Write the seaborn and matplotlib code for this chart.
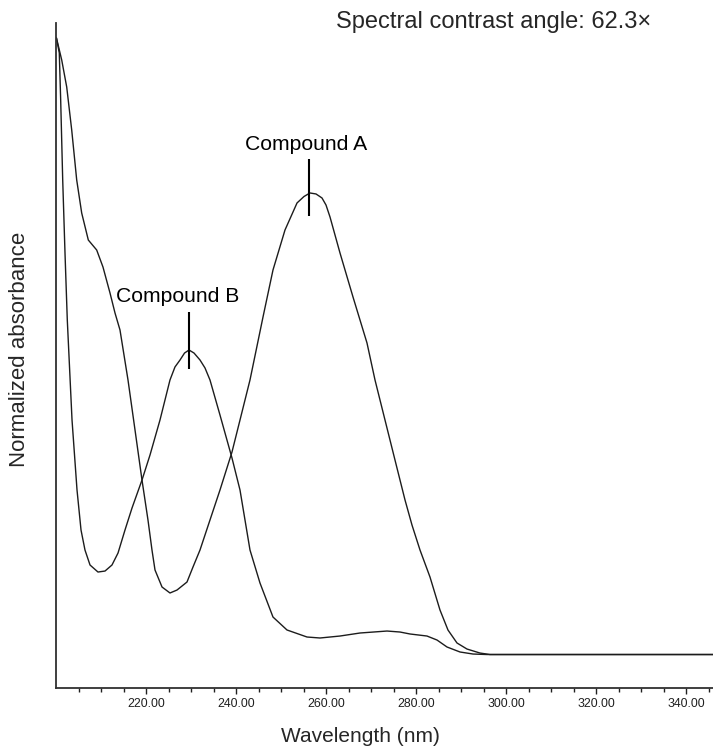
import matplotlib
matplotlib.use("Agg")
import matplotlib.pyplot as plt
import matplotlib.ticker as mticker
import numpy as np
import pandas as pd
import seaborn as sns

# UV spectra (wavelength in nm, normalized absorbance)
wl_a = [200.1, 201.27, 202.38, 203.49, 204.6, 205.71, 207.18, 209.04, 210.44, 212.0,
        213.11, 214.22, 216.0, 217.56, 219.11, 220.44, 221.33, 222.0, 223.56, 225.33,
        226.89, 229.11, 230.44, 232.0, 234.22, 236.44, 239.11, 240.89, 243.11, 246.0,
        248.22, 250.89, 253.56, 255.11, 256.44, 257.78, 259.11, 260.0, 260.89, 263.11,
        266.0, 269.11, 270.89, 273.11, 275.33, 277.56, 279.11, 280.89, 283.11, 285.33,
        287.11, 289.11, 291.33, 294.22, 296.44, 346.0]
abs_a = [1.0, 0.9643, 0.9205, 0.8508, 0.7697, 0.7161, 0.6723, 0.6561, 0.6285, 0.5864,
         0.5540, 0.5264, 0.4453, 0.3641, 0.2830, 0.2182, 0.1695, 0.1371, 0.1095, 0.0998,
         0.1046, 0.1176, 0.1419, 0.1695, 0.2182, 0.2668, 0.3285, 0.3804, 0.4453, 0.5474,
         0.6237, 0.6886, 0.7324, 0.7429, 0.7486, 0.7470, 0.7405, 0.7291, 0.7097, 0.6513,
         0.5799, 0.5053, 0.4453, 0.3804, 0.3155, 0.2506, 0.2100, 0.1695, 0.1257, 0.0722,
         0.0397, 0.0187, 0.0089, 0.0024, 0.0, 0.0]

wl_b = [200.1, 200.73, 201.04, 201.49, 202.0, 202.51, 203.56, 204.67, 205.56, 206.44,
        207.56, 209.33, 210.89, 212.44, 213.78, 215.33, 216.89, 219.11, 220.89, 223.11,
        225.33, 226.44, 227.56, 228.56, 229.56, 230.67, 232.0, 233.11, 234.22, 236.44,
        239.11, 240.89, 243.11, 245.33, 248.22, 251.33, 255.78, 258.67, 263.11, 267.56,
        273.56, 276.44, 278.67, 282.44, 284.67, 286.89, 289.78, 292.67, 295.78, 346.0]
abs_b = [1.0, 0.9757, 0.8994, 0.7697, 0.6513, 0.5426, 0.3804, 0.2668, 0.2019, 0.1695,
         0.1452, 0.1338, 0.1354, 0.1452, 0.1646, 0.2019, 0.2376, 0.2830, 0.3236, 0.3804,
         0.4453, 0.4664, 0.4777, 0.4890, 0.4939, 0.4890, 0.4777, 0.4648, 0.4453, 0.3885,
         0.3187, 0.2668, 0.1695, 0.1160, 0.0608, 0.0398, 0.0284, 0.0268, 0.0300, 0.0349,
         0.0381, 0.0365, 0.0333, 0.0300, 0.0235, 0.0122, 0.0041, 0.0008, 0.0, 0.0]

compounds = ["Compound A", "Compound B"]
# label anchor (wavelength, absorbance) and peak marker (wavelength, y0, y1)
label_pos = {"Compound A": (255.49, 0.8183), "Compound B": (227.0, 0.5718)}
peak_marks = {"Compound A": (256.22, 0.7112, 0.8037), "Compound B": (229.56, 0.4631, 0.5556)}

major_ticks = [220, 240, 260, 280, 300, 320, 340]
minor_ticks = list(range(205, 346, 5))
title_text = "Spectral contrast angle: 62.3\u00d7"

df = pd.concat([
    pd.DataFrame({"wavelength": wl_a, "absorbance": abs_a, "compound": compounds[0]}),
    pd.DataFrame({"wavelength": wl_b, "absorbance": abs_b, "compound": compounds[1]}),
], ignore_index=True)

sns.set_style("white")
plt.rcParams["font.family"] = ["Liberation Sans", "DejaVu Sans"]

W, H = 713, 749
fig = plt.figure(figsize=(W / 100, H / 100), dpi=100)
ax = fig.add_axes([56 / W, (H - 688) / H, (W - 56) / W, (688 - 23) / H])

sns.lineplot(data=df, x="wavelength", y="absorbance", units="compound",
             estimator=None, sort=False, color="#1c1c1c", linewidth=1.0, ax=ax)

for name in compounds:
    x, y0, y1 = peak_marks[name]
    ax.plot([x, x], [y0, y1], color="black", linewidth=1.5, solid_capstyle="butt")
    lx, ly = label_pos[name]
    ax.text(lx, ly, name, ha="center", va="baseline", fontsize=15.2, color="black")

ax.set_xlim(200, 346)
ax.set_ylim(-0.0543, 1.0243)
ax.set_xlabel("")
ax.set_ylabel("")

for side in ("top", "right"):
    ax.spines[side].set_visible(False)
for side in ("left", "bottom"):
    ax.spines[side].set_color("#303030")
    ax.spines[side].set_linewidth(1.3)

ax.set_yticks([])
ax.xaxis.set_major_locator(mticker.FixedLocator(major_ticks))
ax.xaxis.set_minor_locator(mticker.FixedLocator(minor_ticks))
ax.xaxis.set_major_formatter(mticker.FuncFormatter(lambda v, p: f"{v:.2f}"))
ax.tick_params(axis="x", which="major", direction="out", length=4.2, width=1.0,
               color="#202020", labelsize=8.9, labelcolor="#202020", pad=3, bottom=True)
ax.tick_params(axis="x", which="minor", direction="out", length=2.6, width=1.0,
               color="#202020", bottom=True)

fig.text(336 / W, (H - 28) / H, title_text, ha="left", va="baseline", fontsize=17)
fig.text(360 / W, (H - 741.5) / H, "Wavelength (nm)", ha="center", va="baseline", fontsize=15)
fig.text(19.5 / W, (H - 349.5) / H, "Normalized absorbance", rotation=90,
         ha="center", va="center", fontsize=16)

fig.savefig("out.png", dpi=100)
